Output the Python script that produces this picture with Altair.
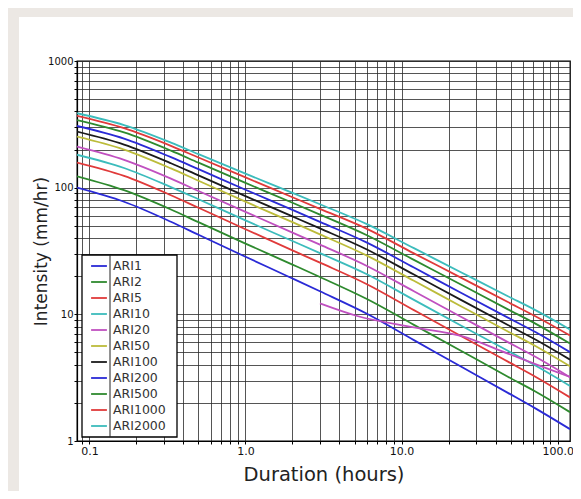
import altair as alt
import pandas as pd

durations = [0.0833, 0.1667, 0.333, 0.5, 1, 2, 3, 6, 12, 24, 48, 72, 120]

series_names = ["ARI1", "ARI2", "ARI5", "ARI10", "ARI20", "ARI50",
                "ARI100", "ARI200", "ARI500", "ARI1000", "ARI2000"]

ari1 = [100, 77.4, 53.8, 42.5, 28.5, 19.2, 15.2, 10.1, 6.26, 3.87, 2.40, 1.81, 1.24]
ari2 = [123, 95.5, 67.2, 53.4, 36.2, 24.7, 19.7, 13.2, 8.26, 5.16, 3.22, 2.46, 1.69]
ari5 = [158, 124, 87.2, 69.4, 47.0, 32.0, 25.6, 17.3, 10.8, 6.75, 4.23, 3.22, 2.21]
ari10 = [182, 143, 101, 81, 55.2, 37.9, 30.4, 20.7, 13.0, 8.17, 5.16, 3.94, 2.72]
ari20 = [211, 166, 118, 94.2, 64.4, 44.2, 35.5, 24.1, 15.2, 9.57, 6.03, 4.62, 3.19]
ari50 = [253, 200, 142, 113.5, 77.5, 53.4, 42.8, 29.1, 18.4, 11.6, 7.33, 5.62, 3.89]
ari100 = [277, 219, 156, 125, 85.8, 59.3, 47.7, 32.5, 20.6, 13.0, 8.24, 6.33, 4.39]
ari200 = [307, 244, 174, 140, 96.3, 66.8, 53.7, 36.8, 23.4, 14.8, 9.42, 7.25, 5.03]
ari500 = [342, 273, 196, 157.5, 109, 76, 61.3, 42.1, 26.9, 17.2, 10.95, 8.45, 5.88]
ari1000 = [369, 295, 214, 173, 120.5, 84, 68, 47.3, 30.3, 19.5, 12.5, 9.66, 6.81]
ari2000 = [387, 312, 227, 184, 129, 91, 74, 51.5, 33.3, 21.5, 13.9, 10.8, 7.6]

# second ARI20 trace that starts at 3 hours in the source figure
ari20_extra_durations = [3, 5.2, 12, 24, 48, 72, 120]
ari20_extra = [12.2, 9.7, 7.9, 6.75, 4.9, 4.05, 3.2]

series_values = [ari1, ari2, ari5, ari10, ari20, ari50, ari100, ari200, ari500, ari1000, ari2000]

colors = ["#2a2ad6", "#2e8a2e", "#e03a3a", "#3cbcbc", "#c050c0", "#bcbc3a",
          "#1a1a1a", "#2a2ad6", "#2e8a2e", "#e03a3a", "#3cbcbc"]

x_grid_values = [0.09, 0.1, 0.2, 0.3, 0.4, 0.5, 0.6, 0.7, 0.8, 0.9,
                 1, 2, 3, 4, 5, 6, 7, 8, 9,
                 10, 20, 30, 40, 50, 60, 70, 80, 90, 100]
y_grid_values = [1, 2, 3, 4, 5, 6, 7, 8, 9,
                 10, 20, 30, 40, 50, 60, 70, 80, 90,
                 100, 200, 300, 400, 500, 600, 700, 800, 900, 1000]

rows = []
for name, vals in zip(series_names, series_values):
    for d, v in zip(durations, vals):
        rows.append({"series": name, "trace": name, "duration": d, "intensity": v})
for d, v in zip(ari20_extra_durations, ari20_extra):
    rows.append({"series": "ARI20", "trace": "ARI20b", "duration": d, "intensity": v})
df = pd.DataFrame(rows)

x_label_expr = ("datum.value == 0.1 ? '0.1' : datum.value == 1 ? '1.0' : "
                "datum.value == 10 ? '10.0' : datum.value == 100 ? '100.0' : ''")
y_label_expr = ("datum.value == 1 ? '1' : datum.value == 10 ? '10' : "
                "datum.value == 100 ? '100' : datum.value == 1000 ? '1000' : ''")

lines = alt.Chart(df).mark_line(strokeWidth=1.8, clip=True, interpolate="monotone").encode(
    x=alt.X("duration:Q",
            scale=alt.Scale(type="log", domain=[0.0833, 120], nice=False),
            axis=alt.Axis(values=x_grid_values, labelExpr=x_label_expr,
                          title="Duration (hours)", labelFontSize=11,
                          titleFontSize=19.5, titleFontWeight="normal",
                          titleY=33, titleBaseline="middle",
                          labelFlush=False, labelOverlap=False)),
    y=alt.Y("intensity:Q",
            scale=alt.Scale(type="log", domain=[1, 1000], nice=False),
            axis=alt.Axis(values=y_grid_values, labelExpr=y_label_expr,
                          title="Intensity (mm/hr)", labelFontSize=10,
                          titleFontSize=17, titleFontWeight="normal",
                          titleX=-36, titleBaseline="middle",
                          labelFlush=False, labelOverlap=False)),
    color=alt.Color("series:N",
                    scale=alt.Scale(domain=series_names, range=colors),
                    sort=series_names,
                    legend=alt.Legend(orient="none", legendX=13, legendY=196,
                                      title=None, symbolType="stroke",
                                      symbolSize=250, symbolStrokeWidth=1.8,
                                      labelFontSize=12.5, labelColor="#333333",
                                      labelFont="DejaVu Sans", labelOffset=5,
                                      padding=0, rowPadding=0)),
    detail="trace:N",
)

one = pd.DataFrame({"k": [0]})
left_strip = alt.Chart(one).mark_rect(color="#ece8e4").encode(
    x=alt.value(-69), x2=alt.value(-58), y=alt.value(-53), y2=alt.value(430))
top_strip = alt.Chart(one).mark_rect(color="#ece8e4").encode(
    x=alt.value(-69), x2=alt.value(496), y=alt.value(-53), y2=alt.value(-44))
# legend frame
legend_box = alt.Chart(one).mark_rect(fill="white", stroke="black", strokeWidth=1.3).encode(
    x=alt.value(5), x2=alt.value(100), y=alt.value(194), y2=alt.value(376))
legend_divider = alt.Chart(one).mark_rule(color="#222222", strokeWidth=1).encode(
    x=alt.value(33), y=alt.value(194), y2=alt.value(376))

chart = alt.layer(left_strip, top_strip, legend_box, legend_divider, lines).properties(
    width=493, height=380,
    padding={"left": 69, "top": 53, "right": 3, "bottom": 50},
    autosize=alt.AutoSizeParams(type="none"),
    background="white",
).configure_axis(
    grid=True, gridColor="#2a2a2a", gridOpacity=0.8, gridWidth=1,
    domainColor="black", domainWidth=1.2,
    tickColor="black", tickSize=3, labelPadding=1,
    labelFont="DejaVu Sans", labelColor="#111111",
    titleFont="DejaVu Sans", titleColor="#222222",
).configure_view(
    stroke="black", strokeWidth=1.3,
)

chart.save("out.html", embed_options={"renderer": "svg", "actions": False})
